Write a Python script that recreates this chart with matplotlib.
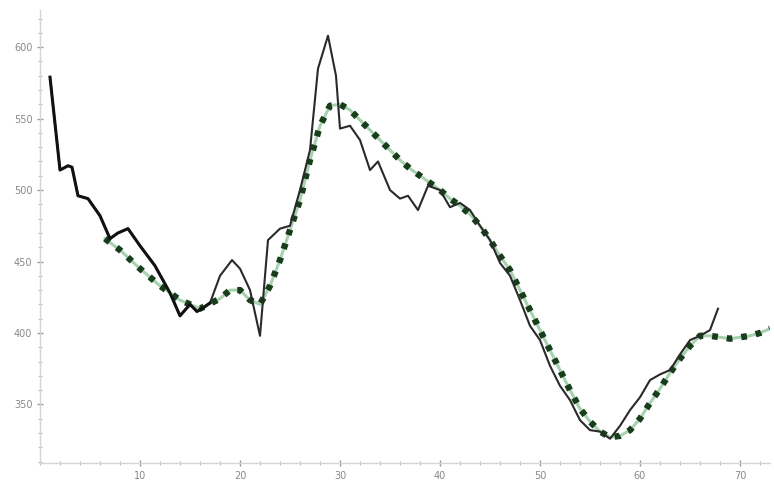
import matplotlib
matplotlib.use("Agg")
import matplotlib.pyplot as plt
from matplotlib.ticker import MultipleLocator

# Black series (actual)
actual_x = [1, 2, 2.8, 3.2, 3.8, 4.8, 6, 7, 7.8, 8.8, 10, 11.5, 13, 14, 15, 15.7, 16.4, 17,
            18, 19.2, 20, 21, 22, 22.8, 24, 25, 26, 27, 27.8, 28.8, 29.6, 30, 31, 32, 33, 33.8,
            35, 36, 36.8, 37.8, 38.8, 40, 41, 42, 43, 44, 45, 46, 47, 48, 49, 50, 51, 52, 53,
            54, 55, 56, 57, 58, 59, 60, 61, 62, 63, 64, 65, 66, 67, 67.8]
actual_y = [579, 514, 517, 516, 496, 494, 482, 466, 470, 473, 461, 447, 428, 412, 420, 415,
            418, 421, 440, 451, 445, 430, 398, 465, 473, 475, 500, 528, 585, 608, 580, 543,
            545, 535, 514, 520, 500, 494, 496, 486, 503, 500, 488, 491, 486, 475, 465, 449,
            440, 423, 405, 395, 377, 363, 353, 339, 332, 331, 326, 335, 346, 355, 367, 371,
            374, 385, 395, 398, 402, 417]

# Green dotted series (smoothed)
smooth_x = [6.5, 8, 10, 12, 14, 16, 18, 19, 20, 21, 22, 23, 24, 25, 26, 27, 28, 29, 30, 31,
            32, 33, 34, 35, 36, 37, 38, 39, 40, 41, 42, 43, 44, 45, 46, 47, 48, 49, 50, 51,
            52, 53, 54, 55, 56, 57, 58, 59, 60, 61, 62, 63, 64, 65, 66, 67, 68, 69, 70, 71,
            72, 73]
smooth_y = [466, 458, 445, 433, 423, 417, 424, 430, 430, 423, 420, 433, 451, 472, 493, 521,
            545, 559, 560, 556, 549, 542, 535, 528, 521, 515, 510, 505, 500, 494, 489, 483,
            475, 465, 454, 444, 430, 416, 402, 388, 374, 360, 347, 338, 331, 327, 328, 332,
            340, 351, 361, 372, 382, 391, 398, 398, 397, 396, 397, 398, 400, 403]

x_ticks = [10, 20, 30, 40, 50, 60, 70]
y_ticks = [350, 400, 450, 500, 550, 600]

fig = plt.figure(figsize=(7.74, 4.86), dpi=100)
ax = fig.add_axes([40 / 774, 23 / 486, 730 / 774, 453 / 486])

ax.plot(smooth_x, smooth_y, linestyle="-", color="#5fae6e", lw=2.2, alpha=0.55, zorder=1)
ax.plot(smooth_x, smooth_y, linestyle=(0, (0.9, 1.4)), color="#173d1b", lw=4.6,
        dash_capstyle="butt", zorder=2)
ax.plot(actual_x, actual_y, color="#2a2a2a", lw=1.5, zorder=3)
ax.plot(actual_x[:18], actual_y[:18], color="#111111", lw=2.2, zorder=3)

ax.set_xlim(0, 73)
ax.set_ylim(309, 626)

for s in ["top", "right"]:
    ax.spines[s].set_visible(False)
for s in ["left", "bottom"]:
    ax.spines[s].set_color("#d5d5d5")
    ax.spines[s].set_linewidth(1.0)

ax.set_xticks(x_ticks)
ax.set_yticks(y_ticks)
ax.xaxis.set_minor_locator(MultipleLocator(2))
ax.yaxis.set_minor_locator(MultipleLocator(10))
ax.tick_params(axis="both", which="major", direction="inout", length=4, width=1,
               color="#999999", labelsize=7, labelcolor="#888888")
ax.tick_params(axis="both", which="minor", direction="inout", length=2.5, width=0.8,
               color="#bbbbbb")

fig.savefig("out.png", dpi=100, facecolor="white")
